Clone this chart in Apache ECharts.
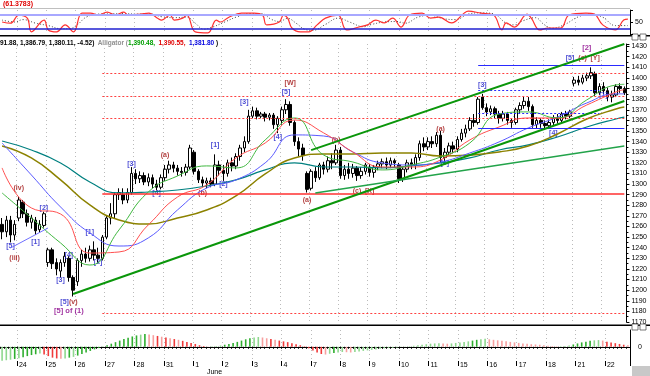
<!DOCTYPE html>
<html>
<head>
<meta charset="utf-8">
<script src="https://cdn.jsdelivr.net/npm/echarts@6/dist/echarts.min.js"></script>
<style>
html, body { margin: 0; padding: 0; background: #fff; }
#main { width: 650px; height: 376px; }
</style>
</head>
<body>
<div id="main"></div>
<script>
// day labels on the time axis, one per trading day (7 hourly bars a day)
var dayLabels = ['24', '25', '26', '27', '28', '31', '1', '2', '3', '4', '7', '8', '9', '10', '11', '15', '16', '17', '18', '21', '22'];
var firstDayBar = 4;
var barsPerDay = 7;

// hourly candles: [open, close, low, high]
var candles = [
  [1262, 1255, 1248, 1268], [1255, 1266, 1250, 1270], [1266, 1252, 1245, 1270], [1252, 1262, 1247, 1266],
  [1268, 1285, 1265, 1288], [1283, 1272, 1268, 1285], [1272, 1264, 1260, 1276], [1264, 1268, 1258, 1271],
  [1266, 1256, 1252, 1269], [1257, 1262, 1254, 1266], [1261, 1272, 1259, 1274],
  [1226, 1238, 1222, 1240], [1238, 1225, 1220, 1240], [1226, 1220, 1214, 1230], [1218, 1226, 1212, 1229],
  [1226, 1232, 1222, 1236], [1230, 1212, 1208, 1232], [1212, 1200, 1194, 1214],
  [1208, 1228, 1204, 1230], [1228, 1234, 1222, 1238], [1234, 1230, 1226, 1240], [1230, 1238, 1227, 1242],
  [1238, 1233, 1228, 1246], [1233, 1230, 1226, 1240], [1230, 1250, 1228, 1252],
  [1250, 1268, 1248, 1270], [1268, 1272, 1262, 1282], [1272, 1290, 1268, 1292], [1290, 1292, 1285, 1296],
  [1290, 1285, 1281, 1296], [1285, 1292, 1282, 1296], [1292, 1310, 1290, 1316],
  [1310, 1305, 1300, 1314], [1305, 1308, 1301, 1312], [1308, 1302, 1299, 1311], [1302, 1306, 1298, 1310],
  [1306, 1300, 1296, 1309], [1300, 1297, 1294, 1304], [1297, 1306, 1295, 1309],
  [1306, 1314, 1303, 1318], [1314, 1318, 1310, 1322], [1318, 1315, 1311, 1321], [1315, 1312, 1308, 1318],
  [1312, 1311, 1307, 1316], [1311, 1316, 1308, 1319], [1316, 1334, 1314, 1337],
  [1330, 1312, 1309, 1332], [1312, 1304, 1301, 1314], [1304, 1301, 1297, 1307], [1301, 1303, 1296, 1306],
  [1303, 1300, 1297, 1306], [1300, 1318, 1298, 1328], [1318, 1313, 1308, 1322],
  [1313, 1310, 1303, 1318], [1310, 1320, 1307, 1323], [1320, 1317, 1312, 1325], [1317, 1326, 1314, 1329],
  [1326, 1334, 1322, 1337], [1334, 1340, 1330, 1345], [1340, 1364, 1338, 1370],
  [1364, 1369, 1362, 1373], [1369, 1364, 1361, 1372], [1364, 1366, 1362, 1368], [1366, 1363, 1359, 1368],
  [1363, 1365, 1360, 1367], [1365, 1356, 1352, 1367], [1356, 1362, 1348, 1364],
  [1360, 1370, 1356, 1373], [1370, 1375, 1366, 1380], [1375, 1358, 1355, 1378], [1358, 1340, 1336, 1360],
  [1340, 1333, 1326, 1344], [1334, 1327, 1322, 1338], [1310, 1295, 1292, 1312],
  [1296, 1312, 1294, 1314], [1312, 1306, 1302, 1316], [1306, 1318, 1304, 1320], [1318, 1314, 1309, 1321],
  [1314, 1322, 1311, 1326], [1322, 1320, 1314, 1329], [1320, 1332, 1318, 1337],
  [1332, 1308, 1305, 1335], [1308, 1314, 1304, 1318], [1314, 1310, 1305, 1320], [1310, 1315, 1306, 1319],
  [1315, 1308, 1303, 1317], [1308, 1312, 1305, 1316], [1312, 1318, 1309, 1320],
  [1316, 1311, 1307, 1319], [1311, 1316, 1306, 1318], [1316, 1319, 1313, 1322], [1319, 1321, 1315, 1324],
  [1321, 1318, 1314, 1325], [1318, 1322, 1315, 1325], [1322, 1320, 1316, 1324],
  [1318, 1305, 1301, 1320], [1305, 1314, 1302, 1316], [1314, 1320, 1311, 1323], [1320, 1318, 1314, 1324],
  [1318, 1325, 1314, 1328], [1325, 1338, 1322, 1341], [1338, 1335, 1331, 1344],
  [1335, 1340, 1332, 1344], [1340, 1338, 1334, 1345], [1338, 1346, 1335, 1349], [1346, 1325, 1320, 1350],
  [1325, 1330, 1321, 1334], [1330, 1336, 1327, 1339], [1336, 1333, 1329, 1340],
  [1333, 1342, 1330, 1345], [1342, 1348, 1340, 1352], [1348, 1352, 1344, 1356], [1352, 1360, 1350, 1363],
  [1360, 1358, 1354, 1366], [1358, 1380, 1356, 1382], [1382, 1372, 1370, 1385],
  [1372, 1368, 1364, 1376], [1368, 1371, 1365, 1374], [1371, 1366, 1362, 1373], [1366, 1362, 1357, 1369],
  [1362, 1366, 1359, 1369], [1366, 1360, 1356, 1368], [1360, 1358, 1353, 1362],
  [1358, 1370, 1356, 1372], [1370, 1374, 1367, 1377], [1374, 1378, 1371, 1383], [1378, 1373, 1369, 1382],
  [1373, 1356, 1353, 1375], [1356, 1360, 1352, 1363], [1360, 1357, 1353, 1362],
  [1357, 1355, 1351, 1360], [1355, 1358, 1353, 1361], [1358, 1362, 1355, 1365], [1362, 1360, 1357, 1366],
  [1360, 1366, 1358, 1368], [1366, 1364, 1361, 1369], [1364, 1368, 1362, 1370],
  [1395, 1398, 1392, 1401], [1398, 1396, 1393, 1402], [1396, 1400, 1394, 1403], [1400, 1402, 1397, 1405],
  [1402, 1405, 1399, 1410], [1404, 1386, 1383, 1406], [1386, 1392, 1384, 1395],
  [1392, 1388, 1385, 1396], [1388, 1382, 1378, 1391], [1382, 1384, 1377, 1388], [1384, 1392, 1382, 1394],
  [1392, 1390, 1386, 1395], [1390, 1386, 1384, 1392]
];

// moving averages, read at these bars
var maBars = [0, 7, 14, 21, 28, 35, 42, 49, 56, 63, 70, 77, 84, 91, 98, 105, 112, 119, 126, 133, 140, 147, 149];
var maTeal = [1340.6, 1332.1, 1319.9, 1302, 1291.6, 1292.5, 1294.4, 1298.2, 1303.9, 1313.3, 1319.9, 1316.1, 1316.1, 1315.2, 1317.1, 1319.9, 1324.6, 1332.1, 1336.9, 1344.4, 1353.8, 1361.3, 1363];
var maOlive = [1335.9, 1324.6, 1303.9, 1280.3, 1266.2, 1262.4, 1268.1, 1275.6, 1288.8, 1309.5, 1324.6, 1328.4, 1328.4, 1329.3, 1329.3, 1326.5, 1327.4, 1330.2, 1335.9, 1347.2, 1361.3, 1370.8, 1372.7];
var maBlue = [1338.7, 1308.6, 1278.4, 1254, 1241.6, 1249.2, 1275.6, 1296.3, 1303.9, 1320, 1346.3, 1345.3, 1330.2, 1319.9, 1318, 1320.8, 1329.3, 1339.7, 1352.9, 1363.2, 1376.4, 1385, 1385];
var maRed = [1315.2, 1277.5, 1271.8, 1235, 1236, 1261.5, 1287.8, 1299.2, 1324.6, 1338.7, 1360.4, 1348.2, 1330.2, 1316.1, 1316.1, 1322.7, 1341.6, 1353.8, 1362.3, 1362.3, 1374.5, 1386.8, 1389];
var maGreen = [1291.6, 1268.1, 1244.5, 1223.7, 1256.8, 1292.5, 1307.6, 1317.1, 1315.2, 1341.6, 1362.3, 1327.4, 1320.8, 1313.3, 1318, 1325.5, 1338.7, 1366, 1368, 1362.3, 1379.3, 1393.4, 1394];

// horizontal levels: [value, startBar, endBar]
var redSolidLevels = [[1291, 24, 149]];
var redDottedLevels = [[1404, 24, 149], [1382.5, 24, 149], [1362, 24, 149], [1178, 24, 149]];
var blueSolidLevels = [[1412.4, 114, 149], [1352.6, 114, 149]];
var blueDottedLevels = [[1388, 114, 143], [1366.6, 114, 143]];

// trend lines: [startBar, startValue, endBar, endValue]
var greenTrends = [[17, 1196.4, 149, 1378.3], [74, 1332, 149, 1432]];
var flatTrends = [[75, 1291.6, 149, 1335.9]];
var blueTrends = [[2, 1239.7, 11, 1258.6]];

// wave labels: [bar, value, text]
var waveLabels = [
  [4, 1296, '{r|(iv)}'], [10, 1277.5, '{b|[2]}'], [8, 1245.4, '{b|[1]}'], [2, 1241.6, '{b|[5]}'],
  [3, 1230.3, '{r|(iii)}'], [16, 1233.2, '{b|[4]}'], [14, 1209.6, '{b|[3]}'], [16, 1189, '{b|[5]}{r|(v)}'],
  [16, 1180.3, '{p|[5] of (1)}'], [21, 1254.8, '{b|[1]}'], [23, 1226.5, '{b|[2]}'], [31, 1318.9, '{b|[3]}'],
  [37, 1291.6, '{b|[4]}'], [39, 1327.4, '{r|(a)}'], [48, 1291.6, '{r|(b)}'], [51, 1336.9, '{b|[1]}'],
  [53, 1300.1, '{b|[2]}'], [58, 1377.4, '{b|[3]}'], [66, 1344.4, '{b|[4]}'], [68, 1386.8, '{b|[5]}'],
  [69, 1395.3, '{r|[W]}'], [73, 1285, '{r|(a)}'], [80, 1341.6, '{r|(b)}'], [85, 1293.5, '{r|(c)}'],
  [88, 1293.5, '{r|[X]}'], [105, 1351.9, '{r|(a)}'], [106, 1319.9, '{b|[c]}'], [115, 1393.4, '{b|[3]}'],
  [132, 1348.2, '{b|[4]}'], [136, 1418.8, '{b|[5]}'], [139, 1418.8, '{r|(c)}'], [142, 1418.8, '{r|[Y]}'],
  [140, 1428.2, '{p|[2]}'], [144, 1384, '{b|[1]}']
];

// lower histogram, one value per bar
var histogram = [
  -0.54, -0.52, -0.50, -0.47, -0.44, -0.40, -0.36, -0.32, -0.29, -0.26,
  -0.30, -0.36, -0.42, -0.45, -0.46, -0.45, -0.42, -0.39,
  -0.34, -0.28, -0.22, -0.16, -0.10, -0.05, -0.01,
  0.06, 0.12, 0.18, 0.24, 0.30, 0.35, 0.40, 0.44, 0.47, 0.50,
  0.48, 0.45, 0.42, 0.39, 0.36, 0.33, 0.30, 0.27, 0.23, 0.19, 0.15, 0.11,
  0.06, 0.03, 0.01, 0.02, 0.03, 0.05,
  0.08, 0.11, 0.15, 0.19, 0.24, 0.29, 0.33, 0.36, 0.38,
  0.36, 0.33, 0.30, 0.27, 0.24, 0.21, 0.18, 0.14, 0.10, 0.06, 0.02,
  -0.06, -0.14, -0.22, -0.28, -0.30, -0.27,
  -0.24, -0.22, -0.20, -0.21, -0.22, -0.20, -0.18,
  -0.16, -0.14, -0.12, -0.10, -0.08, -0.06, -0.05, -0.04, -0.03, -0.01,
  0.01, 0.02, 0.04, 0.06, 0.08, 0.10,
  0.12, 0.13, 0.14, 0.13, 0.12, 0.13, 0.15, 0.17, 0.19, 0.21, 0.24, 0.27, 0.29, 0.31,
  0.29, 0.27, 0.25, 0.23, 0.21, 0.19, 0.17, 0.15, 0.13, 0.12, 0.10, 0.09, 0.08, 0.06,
  0.04, 0.03, 0.02, 0.02, 0.03, 0.05,
  0.09, 0.13, 0.17, 0.20, 0.23, 0.25, 0.26, 0.24,
  0.20, 0.17, 0.14, 0.11, 0.08, 0.06
];

// oscillator (top panel): [bar, value]
var oscK = [[0,50],[2,45],[4,79],[6,66],[7,9],[10,58],[11,17],[13,9],[15,38],[17,9],[19,87],[21,87],[23,79],[25,91],[27,79],[29,91],[30,79],[33,83],[35,87],[37,66],[38,58],[40,79],[41,58],[43,66],[44,79],[46,9],[49,5],[51,58],[52,50],[54,70],[57,87],[60,87],[62,79],[63,38],[66,50],[67,79],[68,66],[69,25],[71,9],[73,9],[75,38],[77,66],[80,79],[82,17],[85,29],[87,38],[89,58],[91,46],[93,66],[95,29],[97,79],[100,87],[102,66],[104,70],[107,46],[110,87],[111,95],[114,87],[117,79],[119,17],[120,46],[122,29],[125,83],[126,66],[128,17],[130,25],[133,25],[135,79],[139,87],[141,83],[143,38],[146,17],[148,58],[149,62]];
var oscD = [[0,58],[3,50],[5,60],[8,45],[11,35],[14,22],[16,22],[18,40],[20,70],[23,83],[26,84],[29,85],[32,83],[35,84],[38,72],[41,68],[44,70],[46,45],[48,20],[50,28],[53,50],[56,72],[59,85],[62,84],[64,62],[66,52],[68,65],[70,45],[72,20],[74,15],[77,40],[80,66],[83,48],[86,30],[88,40],[91,50],[94,52],[96,45],[99,70],[102,78],[105,64],[108,60],[111,83],[114,88],[117,84],[120,45],[122,38],[124,55],[127,68],[129,40],[131,24],[134,40],[137,70],[140,84],[143,70],[146,35],[149,35]];

var categories = candles.map(function (c, i) {
  var k = (i - firstDayBar) / barsPerDay;
  return (i >= firstDayBar && k === Math.floor(k)) ? dayLabels[k] : '';
});
function isDayStart(i) { return i >= firstDayBar && (i - firstDayBar) % barsPerDay === 0; }

function pairs(bars, vals) { return bars.map(function (b, i) { return [b, vals[i]]; }); }
function levelLines(list, color, type, width) {
  return list.map(function (l) {
    return [{ coord: [l[1], l[0]], lineStyle: { color: color, type: type, width: width } }, { coord: [l[2], l[0]] }];
  });
}
function trendLines(list, color, width) {
  return list.map(function (l) {
    return [{ coord: [l[0], l[1]], lineStyle: { color: color, type: 'solid', width: width } }, { coord: [l[2], l[3]] }];
  });
}

var font = 'Liberation Sans';
var W = 630;

var vSplit = { show: true, interval: function (i) { return isDayStart(i); }, lineStyle: { color: '#bbb', type: [1, 3], width: 1 } };

var myChart = echarts.init(document.getElementById('main'), null, { renderer: 'canvas' });

var option = {
  animation: false,
  backgroundColor: '#fff',
  textStyle: { fontFamily: font },
  grid: [
    { left: 0, right: 650 - W, top: 10, height: 24, show: false },
    { left: 0, right: 650 - W, top: 44, height: 278, show: false },
    { left: 0, right: 650 - W, top: 330, height: 35, show: false }
  ],
  xAxis: [
    { type: 'category', gridIndex: 0, data: categories, boundaryGap: true, axisLine: { show: false }, axisTick: { show: false }, axisLabel: { show: false }, splitLine: vSplit },
    { type: 'category', gridIndex: 1, data: categories, boundaryGap: true, axisLine: { show: false }, axisTick: { show: false }, axisLabel: { show: false }, splitLine: vSplit },
    { type: 'category', gridIndex: 2, data: categories, boundaryGap: true,
      axisLine: { show: true, lineStyle: { color: '#000', width: 1 } },
      axisTick: { show: true, interval: 0, length: 2, lineStyle: { color: '#000' } },
      axisLabel: { show: false }, splitLine: vSplit },
    { type: 'category', gridIndex: 2, data: categories, boundaryGap: true, position: 'bottom',
      axisLine: { show: false },
      axisTick: { show: true, interval: function (i) { return isDayStart(i); }, length: 5, lineStyle: { color: '#000' } },
      axisLabel: { show: true, interval: function (i) { return isDayStart(i); }, align: 'left', margin: 1, fontSize: 7, color: '#000', fontFamily: font,
        formatter: function (v) { return v === '1' ? v + '\n      June' : v; } },
      splitLine: { show: false } }
  ],
  yAxis: [
    { type: 'value', gridIndex: 0, position: 'right', min: 0, max: 100, interval: 50,
      axisLine: { show: true, lineStyle: { color: '#000' } }, axisTick: { show: true, length: 3, lineStyle: { color: '#000' } },
      axisLabel: { fontSize: 7, color: '#000', margin: 5, formatter: function (v) { return v === 50 ? '50' : ''; } },
      splitLine: { show: false } },
    { type: 'value', gridIndex: 1, position: 'right', min: 1170, max: 1432, interval: 10,
      axisLine: { show: true, lineStyle: { color: '#000' } },
      axisTick: { show: true, length: 3, lineStyle: { color: '#000' } },
      minorTick: { show: true, splitNumber: 2, length: 2, lineStyle: { color: '#000' } },
      axisLabel: { fontSize: 7, color: '#000', margin: 5, showMaxLabel: false,
        formatter: function (v) { return String(v); } },
      splitLine: { show: false } },
    { type: 'value', gridIndex: 2, position: 'right', min: -0.55, max: 0.65,
      axisLine: { show: true, lineStyle: { color: '#000' } }, axisTick: { show: false },
      axisLabel: { fontSize: 7, color: '#000', margin: 8, showMinLabel: false, showMaxLabel: false,
        formatter: function (v) { return v === 0 ? '0' : ''; } },
      splitLine: { show: false } }
  ],
  series: [
    { type: 'line', xAxisIndex: 0, yAxisIndex: 0, data: oscD, smooth: 0.4, symbol: 'none',
      lineStyle: { color: '#444', width: 1, type: [1, 2] },
      markLine: { silent: true, symbol: 'none', label: { show: false },
        data: [
          { yAxis: 80, lineStyle: { color: '#a8a8ff', type: 'solid', width: 2 } },
          { yAxis: 20, lineStyle: { color: '#2020d0', type: 'solid', width: 1.5 } }
        ] } },
    { type: 'line', xAxisIndex: 0, yAxisIndex: 0, data: oscK, smooth: 0.4, symbol: 'none',
      lineStyle: { color: '#ff3030', width: 1.2 } },

    { type: 'line', xAxisIndex: 1, yAxisIndex: 1, data: pairs(maBars, maTeal), smooth: 0.5, symbol: 'none', lineStyle: { color: '#008080', width: 1.2 } },
    { type: 'line', xAxisIndex: 1, yAxisIndex: 1, data: pairs(maBars, maOlive), smooth: 0.5, symbol: 'none', lineStyle: { color: '#8c8200', width: 1.5 } },
    { type: 'line', xAxisIndex: 1, yAxisIndex: 1, data: pairs(maBars, maBlue), smooth: 0.5, symbol: 'none', lineStyle: { color: '#5a5aff', width: 1 } },
    { type: 'line', xAxisIndex: 1, yAxisIndex: 1, data: pairs(maBars, maRed), smooth: 0.5, symbol: 'none', lineStyle: { color: '#ff5050', width: 1 } },
    { type: 'line', xAxisIndex: 1, yAxisIndex: 1, data: pairs(maBars, maGreen), smooth: 0.5, symbol: 'none', lineStyle: { color: '#40b840', width: 1 } },

    { type: 'candlestick', xAxisIndex: 1, yAxisIndex: 1, data: candles, barWidth: 3,
      itemStyle: { color: '#fff', color0: '#000', borderColor: '#000', borderColor0: '#000', borderWidth: 1 },
      markLine: { silent: true, symbol: 'none', label: { show: false }, animation: false,
        data: []
          .concat(levelLines(redDottedLevels, '#ff4040', [2, 2], 1))
          .concat(levelLines(redSolidLevels, '#ff3030', 'solid', 1.5))
          .concat(levelLines(blueSolidLevels, '#2a2aff', 'solid', 1.2))
          .concat(levelLines(blueDottedLevels, '#2a2aff', [2, 2], 1))
          .concat(trendLines(greenTrends, '#0a960a', 2))
          .concat(trendLines(flatTrends, '#22a34a', 1.5))
          .concat(trendLines(blueTrends, '#7070ff', 1))
      } },

    { type: 'scatter', xAxisIndex: 1, yAxisIndex: 1, data: waveLabels, symbolSize: 0, silent: true,
      label: { show: true, position: 'inside', fontSize: 7, fontWeight: 'bold', fontFamily: font,
        formatter: function (p) { return p.data[2]; },
        rich: {
          b: { color: '#1c1cc8', fontSize: 7, fontWeight: 'bold' },
          r: { color: '#a01010', fontSize: 7, fontWeight: 'bold' },
          p: { color: '#8a008a', fontSize: 7.5, fontWeight: 'bold' }
        } } },

    { type: 'bar', xAxisIndex: 2, yAxisIndex: 2, data: histogram, barWidth: 1.6,
      itemStyle: { color: function (p) {
        var prev = p.dataIndex > 0 ? histogram[p.dataIndex - 1] : p.value;
        var d = p.value - prev;
        if (d >= 0) return Math.abs(d) >= 0.03 ? '#2fae2f' : '#8fd88f';
        return Math.abs(d) >= 0.03 ? '#f03a3a' : '#f7a0a0';
      } } }
  ],
  graphic: [
    { type: 'text', left: 3, top: 1, style: { text: '(61.3783)', fill: '#e00000', font: 'bold 7px ' + font } },
    { type: 'rect', shape: { x: 0, y: 35, width: 650, height: 1.5 }, style: { fill: '#000' } },
    { type: 'rect', shape: { x: 0, y: 324.5, width: 650, height: 1.5 }, style: { fill: '#000' } },
    { type: 'rect', shape: { x: 0, y: 8, width: 630, height: 0.8 }, style: { fill: '#aaa' } },
    { type: 'text', left: 0, top: 37.5, style: {
      rich: {
        k: { fill: '#000', font: 'bold 6.5px ' + font },
        g: { fill: '#909090', font: 'bold 6.5px ' + font },
        gr: { fill: '#00a000', font: 'bold 6.5px ' + font },
        rd: { fill: '#e00000', font: 'bold 6.5px ' + font },
        bl: { fill: '#0000e0', font: 'bold 6.5px ' + font }
      },
      text: '{k|91.88, 1,386.79, 1,380.11, -4.52)} {g|Alligator (}{gr|1,390.48,} {rd|1,390.55,} {bl|1,381.80}{k| )}'
    } },
    { type: 'rect', shape: { x: 632, y: 34, width: 6, height: 6 }, style: { fill: '#fff', stroke: '#555', lineWidth: 0.8 } },
    { type: 'rect', shape: { x: 640, y: 34, width: 6, height: 6 }, style: { fill: '#fff', stroke: '#555', lineWidth: 0.8 } },
    { type: 'rect', shape: { x: 632, y: 324, width: 6, height: 6 }, style: { fill: '#fff', stroke: '#555', lineWidth: 0.8 } },
    { type: 'rect', shape: { x: 640, y: 324, width: 6, height: 6 }, style: { fill: '#fff', stroke: '#555', lineWidth: 0.8 } },
    { type: 'rect', shape: { x: 632, y: 366, width: 18, height: 10 }, style: { fill: '#c8c8c8' } }
  ]
};

myChart.setOption(option);
</script>
</body>
</html>
